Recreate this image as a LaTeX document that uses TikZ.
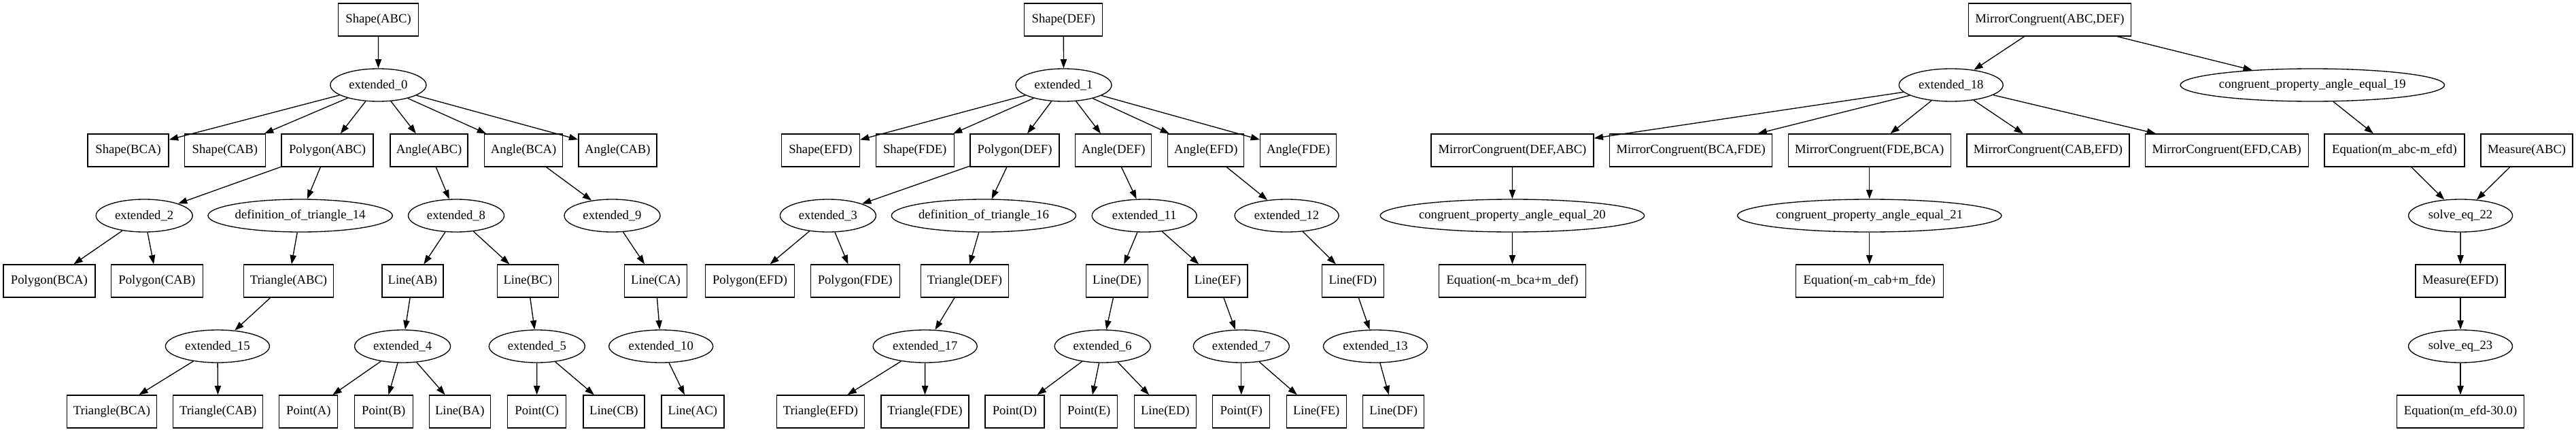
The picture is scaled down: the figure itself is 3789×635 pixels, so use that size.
\documentclass[tikz,border=0pt]{standalone}
\usepackage{fontspec}
\setmainfont{Liberation Serif}
\usetikzlibrary{shapes.geometric,arrows.meta}
\begin{document}
\begin{tikzpicture}[x=0.75pt,y=-0.75pt,
  bx/.style={draw, rectangle, line width=1pt, minimum width=#1*0.75pt, minimum height=36pt, inner sep=0pt},
  el/.style={draw, ellipse, line width=1pt, minimum width=#1*0.75pt, minimum height=36pt, inner sep=0pt},
  arr/.style={-{Triangle[length=10pt,width=7pt]}, line width=1pt},
  font=\fontsize{14pt}{16pt}\selectfont]
\useasboundingbox (0,0) rectangle (3789,635);
% ---------- tree ABC ----------
\node[bx=118] (sABC) at (556.6,29) {Shape(ABC)};
\node[el=141] (e0) at (556.4,125) {extended\_0};
\node[bx=119] (sBCA) at (188.6,221) {Shape(BCA)};
\node[bx=119] (sCAB) at (330.9,221) {Shape(CAB)};
\node[bx=135] (pABC) at (481.6,221) {Polygon(ABC)};
\node[bx=114] (aABC) at (631,221) {Angle(ABC)};
\node[bx=115] (aBCA) at (770,221) {Angle(BCA)};
\node[bx=115] (aCAB) at (908.4,221) {Angle(CAB)};
\node[el=142] (e2) at (212.2,317) {extended\_2};
\node[el=271] (d14) at (441.6,317) {definition\_of\_triangle\_14};
\node[el=141] (e8) at (671,317) {extended\_8};
\node[el=141] (e9) at (900.5,317) {extended\_9};
\node[bx=135] (pBCA) at (72.4,413) {Polygon(BCA)};
\node[bx=135] (pCAB) at (230.9,413) {Polygon(CAB)};
\node[bx=132] (tABC) at (424.5,413) {Triangle(ABC)};
\node[bx=90] (lAB) at (606.9,413) {Line(AB)};
\node[bx=90] (lBC) at (776.3,413) {Line(BC)};
\node[bx=92] (lCA) at (964.5,413) {Line(CA)};
\node[el=153] (e15) at (319.9,509) {extended\_15};
\node[el=141] (e4) at (592.1,509) {extended\_4};
\node[el=141] (e5) at (789.8,509) {extended\_5};
\node[el=153] (e10) at (972.2,509) {extended\_10};
\node[bx=132] (tBCA) at (164.5,605) {Triangle(BCA)};
\node[bx=132] (tCAB) at (320.7,605) {Triangle(CAB)};
\node[bx=86] (ptA) at (453.8,605) {Point(A)};
\node[bx=86] (ptB) at (564.3,605) {Point(B)};
\node[bx=90] (lBA) at (676.3,605) {Line(BA)};
\node[bx=86] (ptC) at (789.6,605) {Point(C)};
\node[bx=90] (lCB) at (902.9,605) {Line(CB)};
\node[bx=92] (lAC) at (1018.9,605) {Line(AC)};
% ---------- tree DEF ----------
\node[bx=115] (sDEF) at (1564.3,29) {Shape(DEF)};
\node[el=141] (e1) at (1564.5,125) {extended\_1};
\node[bx=115] (sEFD) at (1206.9,221) {Shape(EFD)};
\node[bx=115] (sFDE) at (1345.7,221) {Shape(FDE)};
\node[bx=131] (pDEF) at (1492.6,221) {Polygon(DEF)};
\node[bx=112] (aDEF) at (1637.8,221) {Angle(DEF)};
\node[bx=112] (aEFD) at (1773.8,221) {Angle(EFD)};
\node[bx=112] (aFDE) at (1909.7,221) {Angle(FDE)};
\node[el=141] (e3) at (1217.9,317) {extended\_3};
\node[el=271] (d16) at (1446.9,317) {definition\_of\_triangle\_16};
\node[el=154] (e11) at (1683.2,317) {extended\_11};
\node[el=153] (e12) at (1892.6,317) {extended\_12};
\node[bx=131] (pEFD) at (1103,413) {Polygon(EFD)};
\node[bx=131] (pFDE) at (1257.7,413) {Polygon(FDE)};
\node[bx=129] (tDEF) at (1419,413) {Triangle(DEF)};
\node[bx=91] (lDE) at (1642.9,413) {Line(DE)};
\node[bx=88] (lEF) at (1791,413) {Line(EF)};
\node[bx=91] (lFD) at (1989.8,413) {Line(FD)};
\node[el=153] (e17) at (1360.7,509) {extended\_17};
\node[el=141] (e6) at (1621.7,509) {extended\_6};
\node[el=141] (e7) at (1825.8,509) {extended\_7};
\node[el=153] (e13) at (2023,509) {extended\_13};
\node[bx=129] (tEFD) at (1207,605) {Triangle(EFD)};
\node[bx=129] (tFDE) at (1360.5,605) {Triangle(FDE)};
\node[bx=87] (ptD) at (1492.4,605) {Point(D)};
\node[bx=84] (ptE) at (1601.8,605) {Point(E)};
\node[bx=91] (lED) at (1713.8,605) {Line(ED)};
\node[bx=84] (ptF) at (1825.8,605) {Point(F)};
\node[bx=88] (lFE) at (1936.2,605) {Line(FE)};
\node[bx=90] (lDF) at (2049.7,605) {Line(DF)};
% ---------- congruence part ----------
\node[bx=239] (mcA) at (3014.9,29) {MirrorCongruent(ABC,DEF)};
\node[el=153] (e18) at (2869.7,125) {extended\_18};
\node[el=384] (cp19) at (3401.3,125) {congruent\_property\_angle\_equal\_19};
\node[bx=239] (mcB) at (2224.5,221) {MirrorCongruent(DEF,ABC)};
\node[bx=239] (mcC) at (2487.2,221) {MirrorCongruent(BCA,FDE)};
\node[bx=239] (mcD) at (2749.7,221) {MirrorCongruent(FDE,BCA)};
\node[bx=239] (mcE) at (3012.4,221) {MirrorCongruent(CAB,EFD)};
\node[bx=240] (mcF) at (3275.2,221) {MirrorCongruent(EFD,CAB)};
\node[bx=206] (eqA) at (3521.9,221) {Equation(m\_abc-m\_efd)};
\node[bx=135] (mABC) at (3716.6,221) {Measure(ABC)};
\node[el=383] (cp20) at (2224.4,317) {congruent\_property\_angle\_equal\_20};
\node[el=383] (cp21) at (2749.7,317) {congruent\_property\_angle\_equal\_21};
\node[el=153] (se22) at (3619.1,317) {solve\_eq\_22};
\node[bx=216] (eqB) at (2224.5,413) {Equation(-m\_bca+m\_def)};
\node[bx=217] (eqC) at (2749.7,413) {Equation(-m\_cab+m\_fde)};
\node[bx=132] (mEFD) at (3619,413) {Measure(EFD)};
\node[el=153] (se23) at (3619,509) {solve\_eq\_23};
\node[bx=187] (eqD) at (3619,605) {Equation(m\_efd-30.0)};
% ---------- edges ----------
\foreach \a/\b in {sABC/e0, e0/sBCA, e0/sCAB, e0/pABC, e0/aABC, e0/aBCA, e0/aCAB,
  pABC/e2, pABC/d14, aABC/e8, aBCA/e9, e2/pBCA, e2/pCAB, d14/tABC, e8/lAB, e8/lBC, e9/lCA,
  tABC/e15, lAB/e4, lBC/e5, lCA/e10, e15/tBCA, e15/tCAB, e4/ptA, e4/ptB, e4/lBA, e5/ptC, e5/lCB, e10/lAC,
  sDEF/e1, e1/sEFD, e1/sFDE, e1/pDEF, e1/aDEF, e1/aEFD, e1/aFDE,
  pDEF/e3, pDEF/d16, aDEF/e11, aEFD/e12, e3/pEFD, e3/pFDE, d16/tDEF, e11/lDE, e11/lEF, e12/lFD,
  tDEF/e17, lDE/e6, lEF/e7, lFD/e13, e17/tEFD, e17/tFDE, e6/ptD, e6/ptE, e6/lED, e7/ptF, e7/lFE, e13/lDF,
  mcA/e18, mcA/cp19, e18/mcB, e18/mcC, e18/mcD, e18/mcE, e18/mcF, cp19/eqA,
  mcB/cp20, mcD/cp21, cp20/eqB, cp21/eqC, eqA/se22, mABC/se22, se22/mEFD, mEFD/se23, se23/eqD}
  \draw[arr] (\a) -- (\b);
\end{tikzpicture}
\end{document}
